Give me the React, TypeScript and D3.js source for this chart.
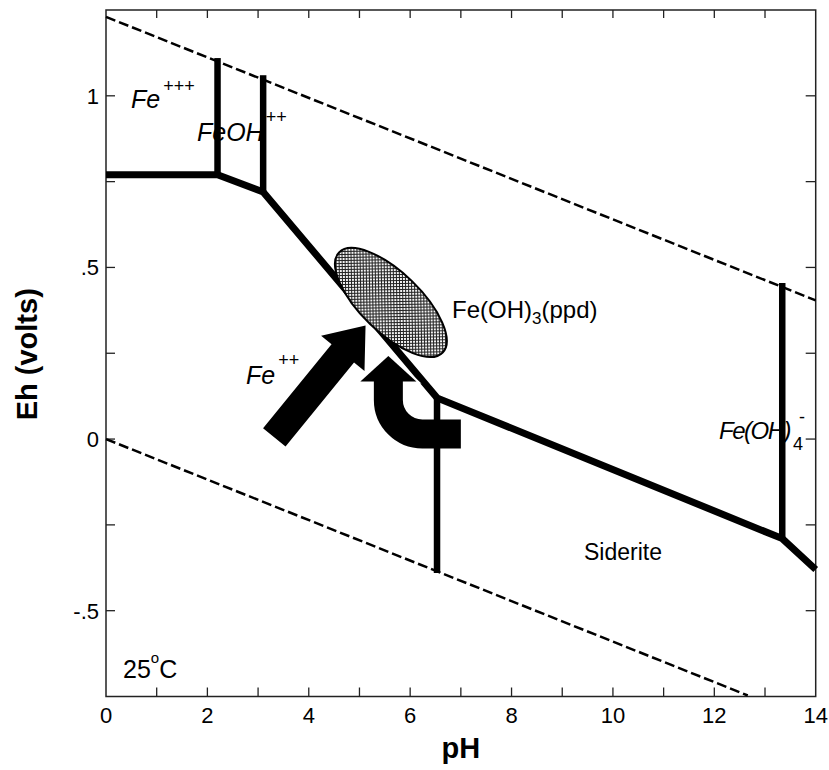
import React from "react";
import * as d3 from "d3";

// Eh–pH stability diagram for iron (25 °C)
const WIDTH = 829;
const HEIGHT = 770;
const PLOT = { left: 106, right: 815.7, top: 10, bottom: 696.5 };

const phDomain: [number, number] = [0, 14];
const ehDomain: [number, number] = [-0.75, 1.25];

const phMinorTicks = [1, 2, 3, 4, 5, 6, 7, 8, 9, 10, 11, 12, 13];
const phTickLabels = [0, 2, 4, 6, 8, 10, 12, 14];
const ehMinorTicks = [-0.5, -0.25, 0, 0.25, 0.5, 0.75, 1];
const ehTickValues = [1, 0.5, 0, -0.5];
const ehTickText = ["1", ".5", "0", "-.5"];

// water stability limits (dashed)
const waterUpper: [number, number][] = [[0, 1.23], [14, 0.404]];
const waterLower: [number, number][] = [[0, 0.0], [12.66, -0.747]];

// main Fe boundary (solid)
const mainBoundary: [number, number][] = [
  [0, 0.77], [2.2, 0.77], [3.1, 0.72], [6.53, 0.12], [13.34, -0.29], [14, -0.38],
];
// vertical boundaries
const verticalBoundaries: [number, number][][] = [
  [[2.2, 0.77], [2.2, 1.11]],
  [[3.1, 0.72], [3.1, 1.06]],
  [[6.53, 0.12], [6.53, -0.39]],
  [[13.34, -0.29], [13.34, 0.455]],
];

// precipitate field (ellipse centre)
const precipitateCentre: [number, number] = [5.62, 0.398];
// Fe++ transport arrow: tail, tip
const feArrow: [number, number][] = [[3.32, 0.005], [5.12, 0.331]];
// recycling arrow: tip, tail
const returnArrow: [number, number][] = [[5.57, 0.242], [7.0, 0.015]];

const FONT = "'Liberation Sans', Arial, Helvetica, sans-serif";

export default function App() {
  const x = d3.scaleLinear().domain(phDomain).range([PLOT.left, PLOT.right]);
  const y = d3.scaleLinear().domain(ehDomain).range([PLOT.bottom, PLOT.top]);
  const line = d3
    .line<[number, number]>()
    .x((d) => x(d[0]))
    .y((d) => y(d[1]));

  // straight arrow polygon
  const [tail, tip] = feArrow;
  const tx = x(tail[0]), ty = y(tail[1]);
  const px = x(tip[0]), py = y(tip[1]);
  const len = Math.hypot(px - tx, py - ty);
  const ux = (px - tx) / len, uy = (py - ty) / len;
  const nx = -uy, ny = ux;
  const shaftHalf = 14.5, headHalf = 28, headLen = 36;
  const bx = px - ux * headLen, by = py - uy * headLen;
  const straightPts: [number, number][] = [
    [tx + nx * shaftHalf, ty + ny * shaftHalf],
    [bx + nx * shaftHalf, by + ny * shaftHalf],
    [bx + nx * headHalf, by + ny * headHalf],
    [px, py],
    [bx - nx * headHalf, by - ny * headHalf],
    [bx - nx * shaftHalf, by - ny * shaftHalf],
    [tx - nx * shaftHalf, ty - ny * shaftHalf],
  ];

  // curved return arrow
  const rTipX = x(returnArrow[0][0]);
  const rTipY = y(returnArrow[0][1]);
  const rTailX = x(returnArrow[1][0]);
  const rTailY = y(returnArrow[1][1]);
  const rHeadLen = 25.5, rHeadHalf = 28, rRad = 34;
  const rBaseY = rTipY + rHeadLen;
  const curvePath = `M${rTipX},${rBaseY - 1} L${rTipX},${rTailY - rRad} A${rRad},${rRad} 0 0 0 ${rTipX + rRad},${rTailY} L${rTailX},${rTailY}`;
  const rHead = `M${rTipX - rHeadHalf},${rBaseY} L${rTipX},${rTipY} L${rTipX + rHeadHalf},${rBaseY} Z`;

  const ex = x(precipitateCentre[0]);
  const ey = y(precipitateCentre[1]);

  const italicLabel = { fontFamily: FONT, fontStyle: "italic" as const, fontSize: 25, fill: "#000" };

  return (
    <svg
      width={WIDTH}
      height={HEIGHT}
      style={{ position: "absolute", left: 0, top: 0, background: "#fff" }}
    >
      <defs>
        <pattern id="hatch" width="3" height="3" patternUnits="userSpaceOnUse" patternTransform="rotate(45)">
          <rect width="3" height="3" fill="#f2f2f2" />
          <line x1="0" y1="0.5" x2="3" y2="0.5" stroke="#222" strokeWidth="1" />
          <line x1="0.5" y1="0" x2="0.5" y2="3" stroke="#222" strokeWidth="1" />
        </pattern>
      </defs>

      {/* frame */}
      <rect
        x={PLOT.left}
        y={PLOT.top}
        width={PLOT.right - PLOT.left}
        height={PLOT.bottom - PLOT.top}
        fill="none"
        stroke="#222"
        strokeWidth={1.5}
      />
      {/* pH ticks top & bottom */}
      {phMinorTicks.map((t) => (
        <g key={"ph" + t} stroke="#222" strokeWidth={1.3}>
          <line x1={x(t)} x2={x(t)} y1={PLOT.bottom} y2={PLOT.bottom - 9} />
          <line x1={x(t)} x2={x(t)} y1={PLOT.top} y2={PLOT.top + 8} />
        </g>
      ))}
      {/* Eh ticks left & right */}
      {ehMinorTicks.map((t) => (
        <g key={"eh" + t} stroke="#222" strokeWidth={1.3}>
          <line x1={PLOT.left} x2={PLOT.left + 9} y1={y(t)} y2={y(t)} />
          <line x1={PLOT.right} x2={PLOT.right - 10} y1={y(t)} y2={y(t)} />
        </g>
      ))}
      {phTickLabels.map((t) => (
        <text key={"phl" + t} x={x(t)} y={723} textAnchor="middle" fontFamily={FONT} fontSize={22}>
          {t}
        </text>
      ))}
      {ehTickValues.map((t, i) => (
        <text key={"ehl" + t} x={99} y={y(t) + 8} textAnchor="end" fontFamily={FONT} fontSize={22}>
          {ehTickText[i]}
        </text>
      ))}

      {/* axis titles */}
      <text x={(PLOT.left + PLOT.right) / 2} y={758} textAnchor="middle" fontFamily={FONT} fontWeight="bold" fontSize={29}>
        pH
      </text>
      <text
        transform={`translate(37,${(PLOT.top + PLOT.bottom) / 2 + 1}) rotate(-90)`}
        textAnchor="middle"
        fontFamily={FONT}
        fontWeight="bold"
        fontSize={29}
      >
        Eh (volts)
      </text>

      {/* water limits */}
      <path d={line(waterUpper) || ""} fill="none" stroke="#000" strokeWidth={2.5} strokeDasharray="10 4" />
      <path d={line(waterLower) || ""} fill="none" stroke="#000" strokeWidth={2.5} strokeDasharray="10 4" />

      {/* field labels */}
      <text x={131} y={108} {...italicLabel}>
        Fe<tspan dx={3} dy={-16} fontSize={18} fontStyle="normal">+++</tspan>
      </text>
      <text x={197} y={141} {...italicLabel}>
        FeOH<tspan dx={2} dy={-18} fontSize={18} fontStyle="normal">++</tspan>
      </text>
      <text x={246} y={384} {...italicLabel}>
        Fe<tspan dx={3} dy={-18} fontSize={18} fontStyle="normal">++</tspan>
      </text>
      <text x={719} y={439} {...italicLabel} fontSize={24} letterSpacing={-1.5}>
        Fe(OH)
      </text>
      <text x={793} y={450} fontFamily={FONT} fontSize={18}>
        4
      </text>
      <text x={799} y={423} fontFamily={FONT} fontSize={18}>
        -
      </text>
      <text x={452} y={318} fontFamily={FONT} fontSize={24}>
        Fe(OH)<tspan dy={6} fontSize={17}>3</tspan>
        <tspan dy={-6}>(ppd)</tspan>
      </text>
      <text x={584} y={560} fontFamily={FONT} fontSize={23}>
        Siderite
      </text>
      <text x={123} y={678} fontFamily={FONT} fontSize={25}>
        25<tspan dy={-15} fontSize={15}>o</tspan>
        <tspan dy={15}>C</tspan>
      </text>

      {/* boundaries */}
      <path d={line(mainBoundary) || ""} fill="none" stroke="#000" strokeWidth={7} strokeLinejoin="miter" />
      {verticalBoundaries.map((seg, i) => (
        <path key={"v" + i} d={line(seg) || ""} fill="none" stroke="#000" strokeWidth={6.5} />
      ))}

      {/* precipitate field */}
      <ellipse
        cx={ex}
        cy={ey}
        rx={72}
        ry={30}
        transform={`rotate(44, ${ex}, ${ey})`}
        fill="url(#hatch)"
        stroke="#000"
        strokeWidth={2}
      />

      {/* arrows */}
      <polygon points={straightPts.map((p) => p.join(",")).join(" ")} fill="#000" />
      <path d={rHead} fill="#000" stroke="#fff" strokeWidth={4} style={{ paintOrder: "stroke" }} />
      <path d={curvePath} fill="none" stroke="#000" strokeWidth={29} />
    </svg>
  );
}
